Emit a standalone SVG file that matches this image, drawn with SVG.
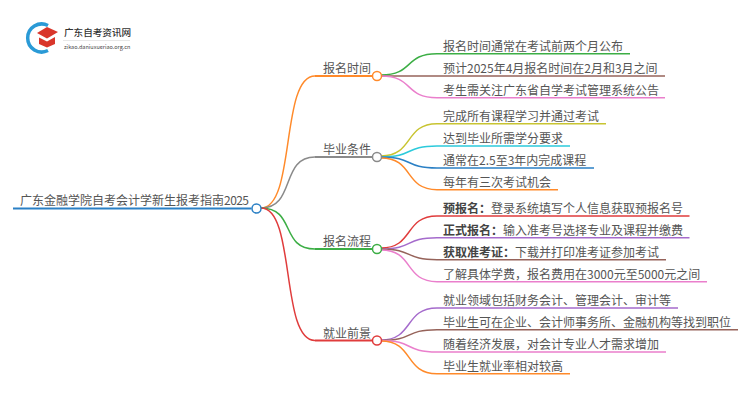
<svg xmlns="http://www.w3.org/2000/svg" width="750" height="410" viewBox="0 0 750 410">
<style>
text{font-family:"Noto Sans CJK SC","Liberation Sans",sans-serif;font-size:12px;fill:#555}
.b{font-weight:700;fill:#444}
.c{fill:none}
.l1{stroke-width:1.5}
.l2{stroke-width:1.5}
circle{fill:#fff;stroke-width:1.5}
.blue{stroke:#2b80c5}.orange{stroke:#ff8a2a}.green{stroke:#3cae45}.red{stroke:#e03c3c}.purple{stroke:#a56bcc}.brown{stroke:#96635a}.pink{stroke:#ea7fcc}.gray{stroke:#8a8a8a}.olive{stroke:#c8c431}.cyan{stroke:#2ccadb}
</style>
<rect width="750" height="410" fill="#fff"/>
<g id="connectors">
<path class="c blue" stroke-width="2" d="M13 208.500H251.500"/>
<path class="c orange l1" d="M261 208C296 208 280 76 315 76"/><path class="c orange" stroke-width="2" d="M315 76H372"/>
<path class="c gray l1" d="M261 208C296 208 280 157 315 157"/><path class="c gray" stroke-width="2" d="M315 157H372"/>
<path class="c green l1" d="M261 208C296 208 280 249 315 249"/><path class="c green" stroke-width="2" d="M315 249H372"/>
<path class="c red l1" d="M261 208C296 208 280 340.500 315 340.500"/><path class="c red" stroke-width="2" d="M315 340.500H372"/>
<path class="c green l2" d="M381 75C414 75 404 53.700 437 53.700H630"/>
<path class="c brown l2" d="M381 76H665"/>
<path class="c pink l2" d="M381 76C414 76 404 97.700 437 97.700H665"/>
<path class="c olive l2" d="M381 156C414 156 404 123.700 437 123.700H606"/>
<path class="c cyan l2" d="M381 157C414 157 404 146 437 146H570"/>
<path class="c blue l2" d="M381 157C414 157 404 168 437 168H594"/>
<path class="c orange l2" d="M381 158C414 158 404 189.700 437 189.700H558"/>
<path class="c red l2" d="M381 248C414 248 404 216 437 216H689.500"/>
<path class="c purple l2" d="M381 249C414 249 404 237.700 437 237.700H689.500"/>
<path class="c brown l2" d="M381 249C414 249 404 259.700 437 259.700H666"/>
<path class="c pink l2" d="M381 250C414 250 404 281.700 437 281.700H707"/>
<path class="c purple l2" d="M381 340C414 340 404 308 437 308H678"/>
<path class="c brown l2" d="M381 340.500C414 340.500 404 329.700 437 329.700H738"/>
<path class="c pink l2" d="M381 340.500C414 340.500 404 352 437 352H666"/>
<path class="c orange l2" d="M381 341C414 341 404 373.700 437 373.700H570"/>
</g>
<g id="logo">
<path class="c" d="M48 25.500A14 14 0 1 0 48 50.500" stroke="#2a9ad6" stroke-width="3.500"/>
<path d="M37 33L47 27L58 32L47 38.500Z" fill="#d9362b"/>
<path d="M39 37.500L47 41.500L55 37V44L47 47.500L39 44Z" fill="#d9362b"/>
<text x="64" y="35.500" style="font-size:9.600px;fill:#333;font-weight:500">广东自考资讯网</text>
<path class="c" d="M63 40.500H130" stroke="#ddd" stroke-width="0.700"/>
<text x="64" y="49" style="font-size:5.500px;fill:#444">zikao.daniuxueriao.org.cn</text>
</g>
<g id="root"><circle class="blue" cx="256.500" cy="208.500" r="4.500"/><text x="20" y="205">广东金融学院自考会计学新生报考指南<tspan textLength="25">2025</tspan></text></g>
<g id="n1"><circle class="orange" cx="377" cy="76" r="4.500"/><text x="323" y="73">报名时间</text></g>
<g id="n2"><circle class="gray" cx="377" cy="157" r="4.500"/><text x="323" y="154">毕业条件</text></g>
<g id="n3"><circle class="green" cx="377" cy="249" r="4.500"/><text x="323" y="246">报名流程</text></g>
<g id="n4"><circle class="red" cx="377" cy="340.500" r="4.500"/><text x="323" y="337.500">就业前景</text></g>
<g id="n1-1"><text x="443" y="51">报名时间通常在考试前两个月公布</text></g>
<g id="n1-2"><text x="443" y="73">预计2025年4月报名时间在2月和3月之间</text></g>
<g id="n1-3"><text x="443" y="95">考生需关注广东省自学考试管理系统公告</text></g>
<g id="n2-1"><text x="443" y="121">完成所有课程学习并通过考试</text></g>
<g id="n2-2"><text x="443" y="143">达到毕业所需学分要求</text></g>
<g id="n2-3"><text x="443" y="165">通常在2.5至3年内完成课程</text></g>
<g id="n2-4"><text x="443" y="187">每年有三次考试机会</text></g>
<g id="n3-1"><text x="443" y="213"><tspan class="b">预报名：</tspan>登录系统填写个人信息获取预报名号</text></g>
<g id="n3-2"><text x="443" y="235"><tspan class="b">正式报名：</tspan>输入准考号选择专业及课程并缴费</text></g>
<g id="n3-3"><text x="443" y="257"><tspan class="b">获取准考证：</tspan>下载并打印准考证参加考试</text></g>
<g id="n3-4"><text x="443" y="279">了解具体学费，报名费用在3000元至5000元之间</text></g>
<g id="n4-1"><text x="443" y="305">就业领域包括财务会计、管理会计、审计等</text></g>
<g id="n4-2"><text x="443" y="327">毕业生可在企业、会计师事务所、金融机构等找到职位</text></g>
<g id="n4-3"><text x="443" y="349">随着经济发展，对会计专业人才需求增加</text></g>
<g id="n4-4"><text x="443" y="371">毕业生就业率相对较高</text></g>
</svg>
